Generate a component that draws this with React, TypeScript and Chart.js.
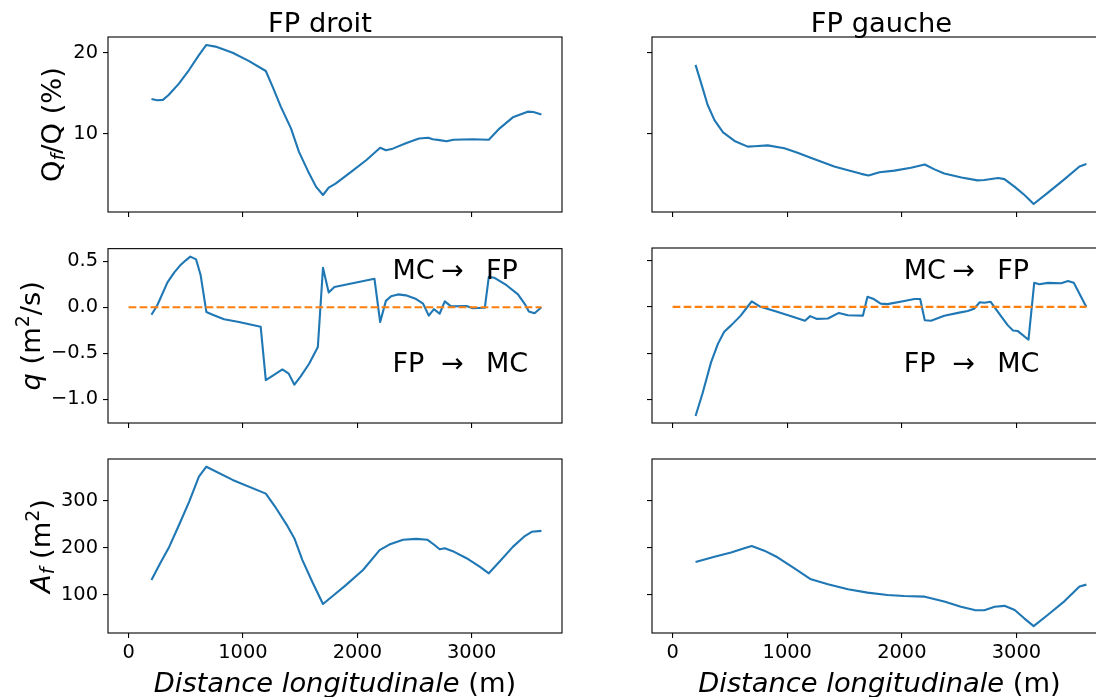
import React, { useEffect, useRef } from "react";
import { Chart, registerables } from "chart.js";

Chart.register(...registerables);

// ---------------- data ----------------
const X_TICKS = [0, 1000, 2000, 3000];
const X_TICK_LABELS = ["0", "1000", "2000", "3000"];
const QF_TICKS = [10, 20];
const QF_TICK_LABELS = ["10", "20"];
const Q_TICKS = [-1.0, -0.5, 0.0, 0.5];
const Q_TICK_LABELS = ["\u22121.0", "\u22120.5", "0.0", "0.5"];
const AF_TICKS = [100, 200, 300];
const AF_TICK_LABELS = ["100", "200", "300"];

const COL_TITLES = ["FP droit", "FP gauche"];
const X_LABEL_ITALIC = "Distance longitudinale";
const X_LABEL_UNIT = " (m)";
const ANNOT_UP = ["MC", "\u2192", "FP"];
const ANNOT_DOWN = ["FP", "\u2192", "MC"];

// Qf/Q (%) - FP droit
const QF_DROIT_X = [200, 250, 300, 350, 440, 530, 615, 680, 760, 910, 1050, 1200, 1260, 1330, 1420, 1490, 1570, 1640, 1700, 1750, 1810, 1960, 2080, 2200, 2250, 2310, 2430, 2540, 2620, 2660, 2720, 2780, 2840, 3010, 3150, 3245, 3360, 3490, 3540, 3610];
const QF_DROIT_Y = [14.3, 14.15, 14.2, 14.8, 16.2, 17.9, 19.7, 20.95, 20.75, 20.0, 19.0, 17.75, 15.8, 13.4, 10.7, 7.8, 5.4, 3.5, 2.5, 3.4, 3.9, 5.5, 6.8, 8.3, 8.0, 8.2, 8.9, 9.45, 9.55, 9.35, 9.25, 9.1, 9.3, 9.35, 9.3, 10.7, 12.05, 12.75, 12.7, 12.4];

// Qf/Q (%) - FP gauche
const QF_GAUCHE_X = [200, 250, 305, 365, 440, 540, 655, 715, 830, 975, 1090, 1210, 1410, 1530, 1645, 1710, 1805, 1935, 2080, 2200, 2285, 2370, 2520, 2660, 2720, 2840, 2895, 2985, 3070, 3150, 3275, 3420, 3550, 3610];
const QF_GAUCHE_Y = [18.5, 16.2, 13.6, 11.7, 10.2, 9.15, 8.45, 8.5, 8.6, 8.25, 7.7, 7.05, 6.0, 5.55, 5.1, 4.9, 5.3, 5.5, 5.85, 6.25, 5.65, 5.15, 4.65, 4.3, 4.35, 4.6, 4.45, 3.5, 2.5, 1.4, 2.8, 4.45, 6.0, 6.3];

// q (m2/s) - FP droit
const Q_DROIT_X = [200, 250, 340, 400, 455, 500, 540, 590, 630, 680, 735, 835, 965, 1155, 1200, 1275, 1345, 1400, 1450, 1505, 1580, 1655, 1700, 1750, 1800, 2150, 2200, 2250, 2295, 2355, 2425, 2515, 2575, 2625, 2670, 2720, 2765, 2820, 2955, 3010, 3115, 3150, 3200, 3305, 3405, 3465, 3500, 3550, 3610];
const Q_DROIT_Y = [-0.08, 0.02, 0.27, 0.38, 0.46, 0.51, 0.55, 0.52, 0.35, -0.05, -0.08, -0.13, -0.16, -0.21, -0.79, -0.73, -0.675, -0.72, -0.84, -0.75, -0.61, -0.43, 0.43, 0.16, 0.22, 0.31, -0.16, 0.07, 0.12, 0.14, 0.13, 0.09, 0.04, -0.09, -0.02, -0.07, 0.065, 0.01, 0.015, -0.01, -0.005, 0.33, 0.32, 0.24, 0.14, 0.035, -0.045, -0.065, 0.0];

// q (m2/s) - FP gauche
const Q_GAUCHE_X = [200, 260, 335, 395, 450, 510, 590, 640, 690, 760, 890, 1035, 1155, 1200, 1260, 1355, 1450, 1530, 1660, 1700, 1755, 1815, 1875, 2010, 2110, 2160, 2200, 2255, 2370, 2490, 2575, 2630, 2680, 2720, 2775, 2865, 2925, 2970, 3010, 3105, 3155, 3200, 3275, 3390, 3450, 3500, 3610];
const Q_GAUCHE_Y = [-1.18, -0.94, -0.6, -0.4, -0.27, -0.2, -0.1, -0.02, 0.06, 0.005, -0.045, -0.1, -0.15, -0.1, -0.13, -0.125, -0.065, -0.09, -0.095, 0.11, 0.085, 0.035, 0.03, 0.06, 0.085, 0.085, -0.145, -0.15, -0.095, -0.065, -0.045, -0.02, 0.05, 0.045, 0.055, -0.1, -0.2, -0.255, -0.26, -0.355, 0.26, 0.245, 0.26, 0.255, 0.28, 0.26, 0.0];

// zero reference line
const ZERO_X = [0, 3610];
const ZERO_Y = [0, 0];

// Af (m2) - FP droit
const AF_DROIT_X = [200, 280, 355, 440, 530, 615, 680, 910, 1200, 1290, 1390, 1450, 1520, 1610, 1700, 1785, 1900, 2050, 2195, 2280, 2400, 2515, 2615, 2675, 2720, 2765, 2835, 2955, 3070, 3150, 3245, 3360, 3465, 3525, 3610];
const AF_DROIT_Y = [132, 169, 202, 248, 298, 351, 372, 344, 315, 284, 246, 220, 174, 126, 81, 98, 121, 153, 195, 207, 217, 219, 217, 206, 197, 199, 193, 178, 160, 146, 171, 202, 225, 234, 236];

// Af (m2) - FP gauche
const AF_GAUCHE_X = [200, 365, 510, 625, 690, 800, 915, 1060, 1200, 1355, 1530, 1700, 1875, 2020, 2200, 2370, 2515, 2635, 2720, 2810, 2895, 2985, 3070, 3150, 3275, 3420, 3550, 3610];
const AF_GAUCHE_Y = [170, 181, 190, 199, 204, 194, 180, 157, 134, 123, 112, 105, 100, 98, 96.5, 86, 75, 68, 67.5, 75, 77, 68, 50, 34, 58, 87, 118, 122];

// axis limits
const X_MIN = -180;
const X_MAX = 3790;
const ROW_Y_LIMITS = [
  [0.41, 21.93],
  [-1.256, 0.637],
  [19.4, 388.4],
];
const ROW_TICKS = [QF_TICKS, Q_TICKS, AF_TICKS];
const ROW_TICK_LABELS = [QF_TICK_LABELS, Q_TICK_LABELS, AF_TICK_LABELS];

// annotation anchors (data coords)
const ANNOT_X = [2308, 2017];
const ANNOT_Y_UP = 0.307;
const ANNOT_Y_DOWN = -0.70;

// ---------------- layout / style ----------------
const FAMILY = '"DejaVu Sans", "Liberation Sans", sans-serif';
const fnt = (size: number, italic = false) => `${italic ? "italic " : ""}${size}px ${FAMILY}`;
const BLUE = "#1f77b4";
const ORANGE = "#ff7f0e";
const LABEL_SIZE = 27.3;
const SMALL_SIZE = 19;
const TICK_SIZE = 19.4;

const COLS = [
  { cx: 0, cw: 570, l: 108, r: 562, titleX: 320 },
  { cx: 600, cw: 520, l: 652, r: 1107, titleX: 881.5 },
];
const ROWS = [
  { cy: 0, ch: 232, t: 37, b: 212 },
  { cy: 232, ch: 210, t: 248, b: 423 },
  { cy: 442, ch: 255, t: 459, b: 633 },
];

type Piece = { t: string; it?: boolean; s?: number; dy?: number };
const Y_LABELS: Piece[][] = [
  [{ t: "Q" }, { t: "f", it: true, s: SMALL_SIZE, dy: 4 }, { t: "/Q (%)" }],
  [{ t: "q", it: true }, { t: " (m" }, { t: "2", s: SMALL_SIZE, dy: -11 }, { t: "/s)" }],
  [{ t: "A", it: true }, { t: "f", it: true, s: SMALL_SIZE, dy: 4 }, { t: " (m" }, { t: "2", s: SMALL_SIZE, dy: -11 }, { t: ")" }],
];
const Y_LABEL_X = [61, 40, 50];
const TITLE_Y = 32;
const XLABEL_BASELINE = 691.5;

function drawPieces(ctx: CanvasRenderingContext2D, pieces: Piece[], x: number, y: number) {
  const widths = pieces.map((p) => {
    ctx.font = fnt(p.s ?? LABEL_SIZE, !!p.it);
    return ctx.measureText(p.t).width;
  });
  const total = widths.reduce((a, b) => a + b, 0);
  let cx = x - total / 2;
  ctx.textAlign = "left";
  ctx.textBaseline = "alphabetic";
  pieces.forEach((p, i) => {
    ctx.font = fnt(p.s ?? LABEL_SIZE, !!p.it);
    ctx.fillText(p.t, cx, y + (p.dy ?? 0));
    cx += widths[i];
  });
}

type PanelSpec = {
  row: number;
  col: number;
  xs: number[];
  ys: number[];
  zero?: boolean;
};

const PANELS: PanelSpec[] = [
  { row: 0, col: 0, xs: QF_DROIT_X, ys: QF_DROIT_Y },
  { row: 0, col: 1, xs: QF_GAUCHE_X, ys: QF_GAUCHE_Y },
  { row: 1, col: 0, xs: Q_DROIT_X, ys: Q_DROIT_Y, zero: true },
  { row: 1, col: 1, xs: Q_GAUCHE_X, ys: Q_GAUCHE_Y, zero: true },
  { row: 2, col: 0, xs: AF_DROIT_X, ys: AF_DROIT_Y },
  { row: 2, col: 1, xs: AF_GAUCHE_X, ys: AF_GAUCHE_Y },
];

function Panel({ spec }: { spec: PanelSpec }) {
  const ref = useRef<HTMLCanvasElement | null>(null);
  const C = COLS[spec.col];
  const R = ROWS[spec.row];

  useEffect(() => {
    const canvas = ref.current;
    if (!canvas) return;
    const yAxisW = C.l - C.cx;
    const xAxisH = R.cy + R.ch - R.b;
    const showX = spec.row === 2;
    const showY = spec.col === 0;
    const yTicks = ROW_TICKS[spec.row];
    const yTickLabels = ROW_TICK_LABELS[spec.row];

    const datasets: any[] = [];
    if (spec.zero) {
      datasets.push({
        data: ZERO_X.map((x, i) => ({ x, y: ZERO_Y[i] })),
        borderColor: ORANGE,
        borderWidth: 2.1,
        borderDash: [7.7, 3.3],
        pointRadius: 0,
        tension: 0,
        fill: false,
      });
    }
    datasets.push({
      data: spec.xs.map((x, i) => ({ x, y: spec.ys[i] })),
      borderColor: BLUE,
      borderWidth: 2.1,
      pointRadius: 0,
      tension: 0,
      fill: false,
      borderJoinStyle: "round",
    });

    const decor = {
      id: "decor",
      afterDraw(chart: any) {
        const { ctx, chartArea: a, scales } = chart;
        ctx.save();
        ctx.strokeStyle = "#000";
        ctx.lineWidth = 1.1;
        ctx.strokeRect(a.left, a.top, a.right - a.left, a.bottom - a.top);
        ctx.fillStyle = "#000";
        const midX = (a.left + a.right) / 2;
        if (spec.row === 0) {
          ctx.font = fnt(LABEL_SIZE);
          ctx.textAlign = "center";
          ctx.textBaseline = "alphabetic";
          ctx.fillText(COL_TITLES[spec.col], C.titleX - C.cx, TITLE_Y - R.cy);
        }
        if (showX) {
          drawPieces(ctx, [{ t: X_LABEL_ITALIC, it: true }, { t: X_LABEL_UNIT }], midX, XLABEL_BASELINE - R.cy);
        }
        if (showY) {
          ctx.save();
          ctx.translate(Y_LABEL_X[spec.row] - C.cx, (a.top + a.bottom) / 2);
          ctx.rotate(-Math.PI / 2);
          drawPieces(ctx, Y_LABELS[spec.row], 0, 0);
          ctx.restore();
        }
        if (spec.zero) {
          const x0 = scales.x.getPixelForValue(ANNOT_X[spec.col]);
          const drawAnn = (parts: string[], yv: number) => {
            const yb = scales.y.getPixelForValue(yv);
            ctx.font = fnt(27);
            ctx.textBaseline = "alphabetic";
            ctx.textAlign = "left";
            ctx.fillText(parts[0], x0, yb);
            ctx.textAlign = "center";
            ctx.fillText(parts[1], x0 + 60, yb);
            ctx.textAlign = "left";
            ctx.fillText(parts[2], x0 + 93.5, yb);
          };
          drawAnn(ANNOT_UP, ANNOT_Y_UP);
          drawAnn(ANNOT_DOWN, ANNOT_Y_DOWN);
        }
        ctx.restore();
      },
    };

    const chart = new Chart(canvas, {
      type: "line",
      data: { datasets },
      options: {
        responsive: false,
        animation: false,
        events: [],
        layout: { padding: { top: R.t - R.cy, right: C.cx + C.cw - C.r, left: 0, bottom: 0 } },
        plugins: { legend: { display: false }, tooltip: { enabled: false } },
        scales: {
          x: {
            type: "linear",
            min: X_MIN,
            max: X_MAX,
            afterBuildTicks: (s: any) => {
              s.ticks = X_TICKS.map((v) => ({ value: v }));
            },
            afterFit: (s: any) => {
              s.height = xAxisH;
            },
            ticks: {
              display: showX,
              autoSkip: false,
              maxRotation: 0,
              padding: 3,
              color: "#000",
              font: { family: FAMILY, size: TICK_SIZE },
              callback: (_v: any, i: number) => X_TICK_LABELS[i] ?? "",
            },
            grid: { drawOnChartArea: false, drawTicks: true, tickLength: 5, color: "#000", lineWidth: 1.1 },
            border: { display: false },
          },
          y: {
            type: "linear",
            min: ROW_Y_LIMITS[spec.row][0],
            max: ROW_Y_LIMITS[spec.row][1],
            afterBuildTicks: (s: any) => {
              s.ticks = yTicks.map((v) => ({ value: v }));
            },
            afterFit: (s: any) => {
              s.width = yAxisW;
            },
            ticks: {
              display: showY,
              autoSkip: false,
              padding: 5,
              color: "#000",
              font: { family: FAMILY, size: TICK_SIZE },
              callback: (_v: any, i: number) => yTickLabels[i] ?? "",
            },
            grid: { drawOnChartArea: false, drawTicks: true, tickLength: 5, color: "#000", lineWidth: 1.1 },
            border: { display: false },
          },
        },
      } as any,
      plugins: [decor],
    });
    return () => chart.destroy();
  }, []);

  return (
    <canvas
      ref={ref}
      width={C.cw}
      height={R.ch}
      style={{ position: "absolute", left: C.cx, top: R.cy, width: C.cw, height: R.ch, display: "block" }}
    />
  );
}

export default function App() {
  return (
    <div
      style={{
        position: "absolute",
        left: 0,
        top: 0,
        width: 1096,
        height: 697,
        overflow: "hidden",
        background: "#fff",
      }}
    >
      {PANELS.map((p, i) => (
        <Panel key={i} spec={p} />
      ))}
    </div>
  );
}
